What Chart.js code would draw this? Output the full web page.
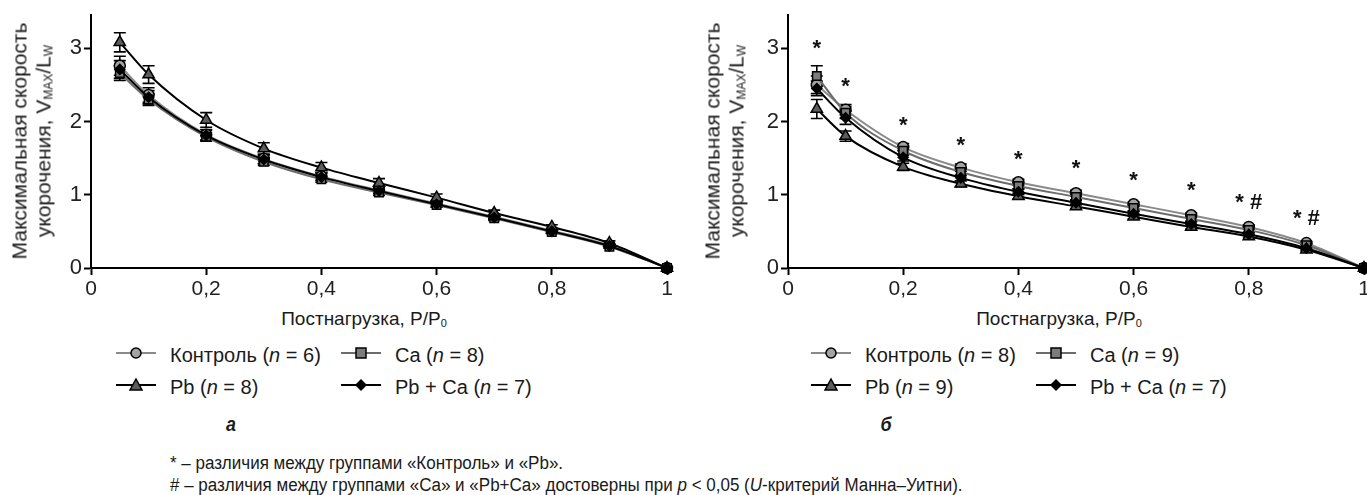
<!DOCTYPE html>
<html>
<head>
<meta charset="utf-8">
<script src="https://cdn.jsdelivr.net/npm/chart.js@4.4.0/dist/chart.umd.min.js"></script>
<style>
  body { margin: 0; width: 1367px; height: 495px; overflow: hidden; position: relative; background: #fff;
         font-family: "Liberation Sans", Arial, sans-serif; color: #1a1a1a; }
  .box { position: absolute; top: 0; width: 690px; height: 300px; }
  .ytitle { position: absolute; font-size: 21px; line-height: 24px; text-align: center; white-space: nowrap;
            transform: translate(-50%, -50%) rotate(-90deg); }
  .ytitle sub { font-size: 12px; vertical-align: -2px; }
  .xtitle { position: absolute; font-size: 19px; transform: translate(-50%, -50%); white-space: nowrap; }
  .xtitle sub { font-size: 11px; vertical-align: -2px; }
  .leg { position: absolute; font-size: 20px; white-space: nowrap; transform: translateY(-50%); }
  .icon { position: absolute; transform: translateY(-50%); }
  .panel { position: absolute; font-weight: bold; font-style: italic; font-size: 21px;
           transform: translate(-50%, -50%) scaleX(0.85); }
  .note { position: absolute; left: 170px; font-size: 18px; white-space: nowrap;
          transform-origin: 0 50%; transform: translateY(-50%) scaleX(0.945); }
</style>
</head>
<body>
<div class="box" style="left:0"><canvas id="chartA"></canvas></div>
<div class="box" style="left:697px"><canvas id="chartB"></canvas></div>

<div class="ytitle" style="left:34px;top:141px">Максимальная скорость<br>укорочения, V<sub>MAX</sub>/L<sub>W</sub></div>
<div class="ytitle" style="left:727px;top:141px">Максимальная скорость<br>укорочения, V<sub>MAX</sub>/L<sub>W</sub></div>
<div class="xtitle" style="left:364px;top:319px">Постнагрузка, P/P<sub>0</sub></div>
<div class="xtitle" style="left:1059px;top:319px">Постнагрузка, P/P<sub>0</sub></div>
<div id="legends"></div>
<div class="panel" style="left:231px;top:424px">а</div>
<div class="panel" style="left:886px;top:424px">б</div>
<div class="note" style="top:463px">* – различия между группами «Контроль» и «Pb».</div>
<div class="note" style="top:485px"># – различия между группами «Ca» и «Pb+Ca» достоверны при <i>p</i> &lt; 0,05 (<i>U</i>-критерий Манна–Уитни).</div>

<script>
// постнагрузка P/P0
const loads = [0.05, 0.1, 0.2, 0.3, 0.4, 0.5, 0.6, 0.7, 0.8, 0.9, 1];

// а
const ctrlA = [2.76, 2.36, 1.82, 1.49, 1.25, 1.06, 0.88, 0.70, 0.51, 0.31, 0];
const caA = [2.66, 2.30, 1.79, 1.45, 1.21, 1.03, 0.86, 0.68, 0.49, 0.29, 0];
const pbA = [3.08, 2.64, 2.02, 1.63, 1.37, 1.16, 0.96, 0.75, 0.56, 0.34, 0];
const pbcaA = [2.71, 2.33, 1.81, 1.48, 1.24, 1.05, 0.87, 0.69, 0.50, 0.30, 0];
const ctrlAErr = [0.13, 0.10, 0.07, 0.06, 0.05, 0.04, 0.04, 0.03, 0.03, 0.02, 0];
const caAErr = [0.10, 0.08, 0.06, 0.05, 0.04, 0.04, 0.03, 0.03, 0.02, 0.02, 0];
const pbAErr = [0.13, 0.12, 0.10, 0.08, 0.07, 0.06, 0.05, 0.04, 0.03, 0.03, 0];
const pbcaAErr = [0.12, 0.09, 0.07, 0.06, 0.05, 0.04, 0.04, 0.03, 0.03, 0.02, 0];

// б
const ctrlB = [2.50, 2.16, 1.65, 1.37, 1.17, 1.02, 0.87, 0.72, 0.56, 0.34, 0];
const caB = [2.62, 2.12, 1.60, 1.31, 1.12, 0.97, 0.82, 0.67, 0.52, 0.31, 0];
const pbB = [2.17, 1.80, 1.38, 1.15, 0.98, 0.84, 0.70, 0.56, 0.43, 0.25, 0];
const pbcaB = [2.45, 2.05, 1.51, 1.23, 1.04, 0.89, 0.74, 0.60, 0.46, 0.27, 0];
const ctrlBErr = [0.12, 0.07, 0.05, 0.05, 0.04, 0.04, 0.03, 0.03, 0.03, 0.02, 0];
const caBErr = [0.14, 0.08, 0.06, 0.05, 0.04, 0.04, 0.04, 0.03, 0.03, 0.02, 0];
const pbBErr = [0.13, 0.07, 0.05, 0.04, 0.04, 0.03, 0.03, 0.03, 0.02, 0.02, 0];
const pbcaBErr = [0.10, 0.09, 0.05, 0.04, 0.04, 0.03, 0.03, 0.03, 0.02, 0.02, 0];

// значимость (б)
const sigLoads = [0.05, 0.1, 0.2, 0.3, 0.4, 0.5, 0.6, 0.7, 0.8, 0.9];
const sigY = [3.04, 2.52, 1.99, 1.72, 1.53, 1.40, 1.24, 1.10, 0.94, 0.72];
const sigText = ['*', '*', '*', '*', '*', '*', '*', '*', '* #', '* #'];

const legendA = ['Контроль (<i>n</i> = 6)', 'Ca (<i>n</i> = 8)', 'Pb (<i>n</i> = 8)', 'Pb + Ca (<i>n</i> = 7)'];
const legendB = ['Контроль (<i>n</i> = 8)', 'Ca (<i>n</i> = 9)', 'Pb (<i>n</i> = 9)', 'Pb + Ca (<i>n</i> = 7)'];

const styles = [
  { line: '#8a8a8a', fill: '#a3a3a3', point: 'circle', r: 5.5 },
  { line: '#6c6c6c', fill: '#7c7c7c', point: 'rect', r: 6 },
  { line: '#000000', fill: '#5c5c5c', point: 'triangle', r: 6.5 },
  { line: '#000000', fill: '#000000', point: 'rectRot', r: 5 }
];

const errorBars = {
  id: 'errorBars',
  beforeDatasetsDraw(chart) {
    const ctx = chart.ctx, x = chart.scales.x, y = chart.scales.y;
    ctx.save();
    ctx.strokeStyle = '#000';
    ctx.lineWidth = 1.6;
    chart.data.datasets.forEach(ds => {
      ds.data.forEach((p, i) => {
        const e = ds.errs[i];
        if (!e) return;
        const px = x.getPixelForValue(p.x);
        const top = y.getPixelForValue(p.y + e), bot = y.getPixelForValue(p.y - e);
        ctx.beginPath();
        ctx.moveTo(px, top); ctx.lineTo(px, bot);
        ctx.moveTo(px - 6, top); ctx.lineTo(px + 6, top);
        ctx.moveTo(px - 6, bot); ctx.lineTo(px + 6, bot);
        ctx.stroke();
      });
    });
    ctx.restore();
  }
};

const sigMarks = {
  id: 'sigMarks',
  afterDatasetsDraw(chart, args, opts) {
    if (!opts.show) return;
    const ctx = chart.ctx, x = chart.scales.x, y = chart.scales.y;
    ctx.save();
    ctx.fillStyle = '#111';
    ctx.textAlign = 'center';
    ctx.textBaseline = 'middle';
    ctx.font = 'bold 22px "Liberation Sans", Arial, sans-serif';
    sigLoads.forEach((l, i) => {
      ctx.fillText(sigText[i], x.getPixelForValue(l), y.getPixelForValue(sigY[i]) + 4);
    });
    ctx.restore();
  }
};

function makeChart(id, series, errs, showSig) {
  const names = ['Контроль', 'Ca', 'Pb', 'Pb + Ca'];
  const datasets = series.map((s, k) => ({
    label: names[k],
    data: loads.map((l, i) => ({ x: l, y: s[i] })),
    errs: errs[k],
    order: 4 - k,
    borderColor: styles[k].line,
    borderWidth: 2,
    backgroundColor: styles[k].fill,
    pointStyle: styles[k].point,
    pointRadius: styles[k].r,
    pointBorderColor: '#000',
    pointBorderWidth: 1.5,
    cubicInterpolationMode: 'monotone',
    clip: false
  }));
  new Chart(document.getElementById(id), {
    type: 'line',
    data: { datasets },
    plugins: [errorBars, sigMarks],
    options: {
      responsive: false,
      animation: false,
      maintainAspectRatio: false,
      layout: { padding: { top: 14, left: 0, right: 23, bottom: 0 } },
      plugins: { legend: { display: false }, tooltip: { enabled: false }, sigMarks: { show: showSig } },
      scales: {
        x: {
          type: 'linear', min: 0, max: 1,
          afterFit: s => { s.height = 32; },
          border: { color: '#000', width: 2 },
          grid: { drawOnChartArea: false, tickLength: 7, tickWidth: 2, tickColor: '#000' },
          ticks: {
            stepSize: 0.2, padding: 2, color: '#222',
            font: { family: '"Liberation Sans", Arial, sans-serif', size: 21 },
            callback: v => (v === 0 || v === 1) ? String(v) : v.toFixed(1).replace('.', ',')
          }
        },
        y: {
          min: 0, max: 3.45,
          afterFit: s => { s.width = 91; },
          border: { color: '#000', width: 2 },
          grid: { drawOnChartArea: false, tickLength: 7, tickWidth: 2, tickColor: '#000' },
          ticks: {
            stepSize: 1, includeBounds: false, padding: 2, color: '#222',
            font: { family: '"Liberation Sans", Arial, sans-serif', size: 22 }
          }
        }
      }
    }
  });
}

function iconSvg(k) {
  const st = styles[k];
  let m = '';
  if (st.point === 'circle') m = `<circle cx="20" cy="8" r="5" fill="${st.fill}" stroke="#000" stroke-width="1.5"/>`;
  if (st.point === 'rect') m = `<rect x="15" y="3" width="10" height="10" fill="${st.fill}" stroke="#000" stroke-width="1.5"/>`;
  if (st.point === 'triangle') m = `<polygon points="20,2 26,13 14,13" fill="${st.fill}" stroke="#000" stroke-width="1.5"/>`;
  if (st.point === 'rectRot') m = `<polygon points="20,2 26,8 20,14 14,8" fill="#000"/>`;
  return `<svg width="40" height="16"><line x1="0" y1="8" x2="40" y2="8" stroke="${st.line}" stroke-width="2"/>${m}</svg>`;
}

function makeLegend(labels, left) {
  const rows = [355, 387];
  const cols = [left, left + 225];
  let html = '';
  labels.forEach((t, k) => {
    const r = rows[Math.floor(k / 2)], c = cols[k % 2];
    html += `<div class="icon" style="left:${c - 54}px;top:${r}px">${iconSvg(k)}</div>`;
    html += `<div class="leg" style="left:${c}px;top:${r}px">${t}</div>`;
  });
  return html;
}

document.getElementById('legends').innerHTML = makeLegend(legendA, 170) + makeLegend(legendB, 865);

const cA = document.getElementById('chartA'); cA.width = 690; cA.height = 300;
const cB = document.getElementById('chartB'); cB.width = 690; cB.height = 300;
makeChart('chartA', [ctrlA, caA, pbA, pbcaA], [ctrlAErr, caAErr, pbAErr, pbcaAErr], false);
makeChart('chartB', [ctrlB, caB, pbB, pbcaB], [ctrlBErr, caBErr, pbBErr, pbcaBErr], true);
</script>
</body>
</html>
